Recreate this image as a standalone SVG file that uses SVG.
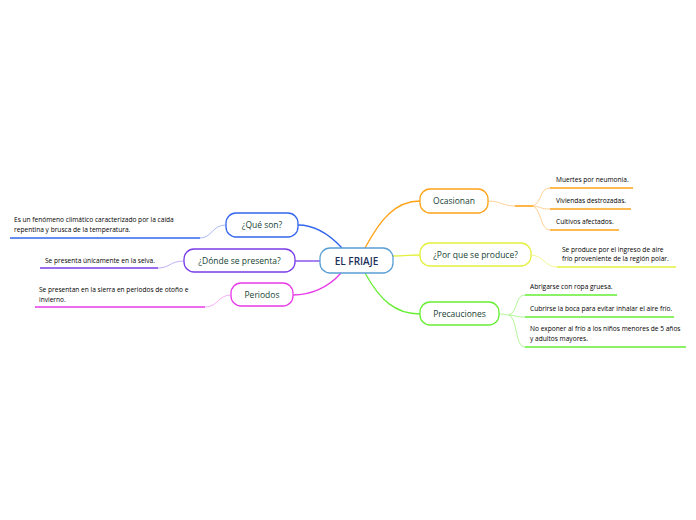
<svg xmlns="http://www.w3.org/2000/svg" width="696" height="520" viewBox="0 0 696 520">
<style>
.node rect{fill:#fff;stroke-width:1.3}
.nt{font-family:"Open Sans","Noto Sans",sans-serif;font-size:8.5px;fill:#163f33;text-anchor:middle;font-weight:500}
.ct{font-family:"Open Sans","Noto Sans",sans-serif;font-size:10px;fill:#1c2f5a;text-anchor:middle;font-weight:600}
.lt{font-family:"Open Sans","Noto Sans",sans-serif;font-size:6.6px;fill:#000}
.c{fill:none}
</style>
<rect width="696" height="520" fill="#fff"/>
<g id="connectors">
<path class="c" d="M365,248 C380,220 395,201 420,201" stroke="#ffa31a" stroke-width="1.3"/>
<path class="c" d="M393,256 C405,256 410,255 420,255" stroke="#e3f03c" stroke-width="1.3"/>
<path class="c" d="M365,273 C380,300 395,314 420,314" stroke="#66ee33" stroke-width="1.3"/>
<path class="c" d="M342,248 C330,235 315,225 298,225" stroke="#3366ee" stroke-width="1.3"/>
<path class="c" d="M320,261 L295,261" stroke="#7a3ce8" stroke-width="1.3"/>
<path class="c" d="M341,273 C328,288 310,295 293,295" stroke="#e83ae8" stroke-width="1.3"/>
<path class="c" d="M488,201 C500,201 503,206 515,206" stroke="#ffc47a" stroke-width="0.8"/>
<path class="c" d="M515,206 L533,206" stroke="#ffa31a" stroke-width="1.6"/>
<path class="c" d="M533,206 C542,202 540,188 550,188" stroke="#ffc47a" stroke-width="0.8"/>
<path class="c" d="M533,206 C542,207 540,209 550,209" stroke="#ffc47a" stroke-width="0.8"/>
<path class="c" d="M533,206 C542,210 540,230 550,230" stroke="#ffc47a" stroke-width="0.8"/>
<path class="c" d="M550,188 L633,188 M550,209 L631,209 M550,230 L619,230" stroke="#ffa31a" stroke-width="1.6"/>
<path class="c" d="M531,255 C543,255 545,267 557,267" stroke="#eef57a" stroke-width="0.8"/>
<path class="c" d="M557,267 L676,267" stroke="#e3f03c" stroke-width="1.6"/>
<path class="c" d="M499,314 C505,314 506,315 509,315" stroke="#9cf37a" stroke-width="0.8"/>
<path class="c" d="M509,315 C518,312 515,295 525,295" stroke="#9cf37a" stroke-width="0.8"/>
<path class="c" d="M509,315 C518,316 515,317 525,317" stroke="#9cf37a" stroke-width="0.8"/>
<path class="c" d="M509,315 C518,320 515,347 525,347" stroke="#9cf37a" stroke-width="0.8"/>
<path class="c" d="M525,295 L617,295 M525,317 L674,317 M525,347 L686,347" stroke="#66ee33" stroke-width="1.6"/>
<path class="c" d="M226,225 C212,225 212,238 200,238" stroke="#8fa8f5" stroke-width="0.8"/>
<path class="c" d="M10,238 L200,238" stroke="#3366ee" stroke-width="1.6"/>
<path class="c" d="M184,261 C170,261 170,268 158,268" stroke="#b39af2" stroke-width="0.8"/>
<path class="c" d="M40,268 L158,268" stroke="#7a3ce8" stroke-width="1.6"/>
<path class="c" d="M231,295 C218,295 218,307 205,307" stroke="#f29bf2" stroke-width="0.8"/>
<path class="c" d="M35,307 L205,307" stroke="#e83ae8" stroke-width="1.6"/>
</g>
<g id="central" class="node"><rect x="320" y="248" width="73" height="25" rx="10" stroke="#5a9fd4"/><text class="ct" x="356.5" y="264.5">EL FRIAJE</text></g>
<g id="ocasionan" class="node"><rect x="420" y="189" width="68" height="24" rx="10" stroke="#ffa31a"/><text class="nt" x="454" y="204">Ocasionan</text></g>
<g id="porque" class="node"><rect x="420" y="243" width="111" height="23" rx="10" stroke="#e3f03c"/><text class="nt" x="475.5" y="257.5">¿Por que se produce?</text></g>
<g id="precauciones" class="node"><rect x="420" y="302" width="79" height="23" rx="10" stroke="#66ee33"/><text class="nt" x="459.5" y="316.5">Precauciones</text></g>
<g id="queson" class="node"><rect x="226" y="213" width="72" height="24" rx="10" stroke="#3366ee"/><text class="nt" x="262" y="228">¿Qué son?</text></g>
<g id="donde" class="node"><rect x="184" y="249" width="111" height="23" rx="10" stroke="#7a3ce8"/><text class="nt" x="239.5" y="263.5">¿Dónde se presenta?</text></g>
<g id="periodos" class="node"><rect x="231" y="283" width="62" height="23" rx="10" stroke="#e83ae8"/><text class="nt" x="262" y="297.5">Periodos</text></g>
<g id="leaf-queson"><text class="lt" x="14" y="222">Es un fenómeno climático caracterizado por la caída</text><text class="lt" x="14" y="232">repentina y brusca de la temperatura.</text></g>
<g id="leaf-donde"><text class="lt" x="45" y="263">Se presenta únicamente en la selva.</text></g>
<g id="leaf-periodos"><text class="lt" x="39" y="292">Se presentan en la sierra en periodos de otoño e</text><text class="lt" x="39" y="302">invierno.</text></g>
<g id="leaf-o1"><text class="lt" x="556" y="182">Muertes por neumonía.</text></g>
<g id="leaf-o2"><text class="lt" x="556" y="203">Viviendas destrozadas.</text></g>
<g id="leaf-o3"><text class="lt" x="556" y="224">Cultivos afectados.</text></g>
<g id="leaf-p1"><text class="lt" x="562" y="252">Se produce por el ingreso de aire</text><text class="lt" x="562" y="261">frío proveniente de la región polar.</text></g>
<g id="leaf-c1"><text class="lt" x="530" y="289">Abrigarse con ropa gruesa.</text></g>
<g id="leaf-c2"><text class="lt" x="530" y="311">Cubrirse la boca para evitar inhalar el aire frío.</text></g>
<g id="leaf-c3"><text class="lt" x="530" y="331">No exponer al frío a los niños menores de 5 años</text><text class="lt" x="530" y="341">y adultos mayores.</text></g>
</svg>
